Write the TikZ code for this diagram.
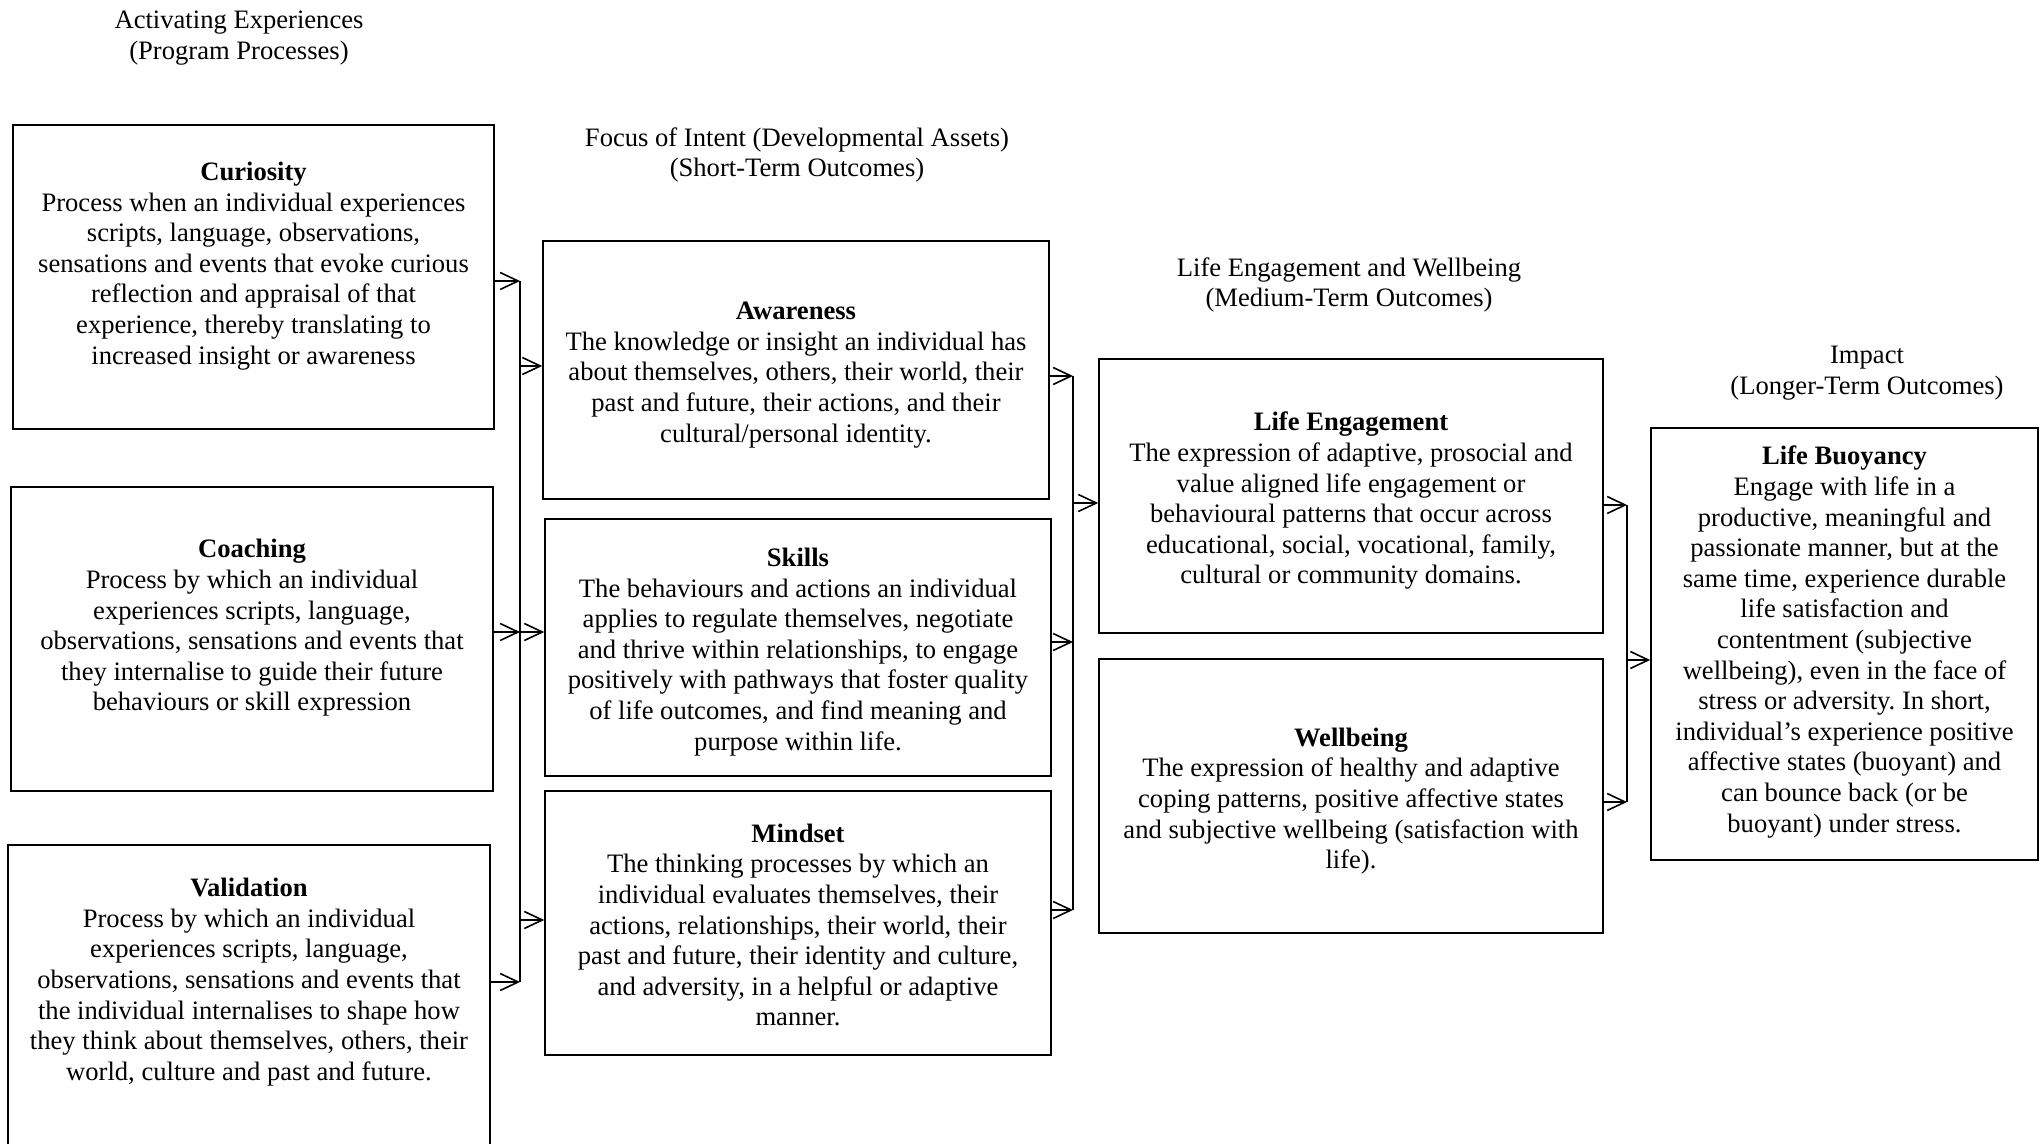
\documentclass[tikz,border=0pt]{standalone}
\usepackage{fontspec}
\setmainfont{Liberation Serif}
\usetikzlibrary{arrows.meta}
\begin{document}
\frenchspacing
\begin{tikzpicture}[x=0.5pt,y=-0.5pt,
  box/.style={draw, line width=0.8pt, inner sep=0pt},
  txt/.style={align=center, inner sep=0pt, font=\fontsize{13.3}{15.3}\selectfont\frenchspacing},
  arr/.style={line width=0.8pt, -{Straight Barb[length=9pt,width=8.5pt,line width=0.8pt]}},
  bus/.style={line width=0.9pt}]
\useasboundingbox (0,0) rectangle (2040,1144);
\clip (0,0) rectangle (2040,1144);

% column headings
\node[txt] (h1) at (239,38) {Activating Experiences\\(Program Processes)};
\node[txt] (h2) at (797,155) {Focus of Intent (Developmental Assets)\\(Short-Term Outcomes)};
\node[txt] (h3) at (1349,285) {Life Engagement and Wellbeing\\(Medium-Term Outcomes)};
\node[txt] (h4) at (1867,373) {Impact\\(Longer-Term Outcomes)};

% boxes
\node[box, minimum width=240.5pt, minimum height=152pt] (cur) at (253.5,277) {};
\node[box, minimum width=241pt, minimum height=152pt] (coa) at (252,639) {};
\node[box, minimum width=241pt, minimum height=157.5pt] (val) at (249,1002.5) {};
\node[box, minimum width=253pt, minimum height=129pt] (awa) at (796,370) {};
\node[box, minimum width=253pt, minimum height=128.5pt] (ski) at (798,647.5) {};
\node[box, minimum width=253pt, minimum height=132pt] (min) at (798,923) {};
\node[box, minimum width=252pt, minimum height=137pt] (eng) at (1351,496) {};
\node[box, minimum width=252pt, minimum height=137pt] (wel) at (1351,796) {};
\node[box, minimum width=193.5pt, minimum height=216pt] (buo) at (1844.5,644) {};

% box texts
\node[txt] (curT) at (253.5,266) {\textbf{Curiosity}\\Process when an individual experiences\\scripts, language, observations,\\sensations and events that evoke curious\\reflection and appraisal of that\\experience, thereby translating to\\increased insight or awareness};
\node[txt] (coaT) at (252,628) {\textbf{Coaching}\\Process by which an individual\\experiences scripts, language,\\observations, sensations and events that\\they internalise to guide their future\\behaviours or skill expression};
\node[txt] (valT) at (249,982) {\textbf{Validation}\\Process by which an individual\\experiences scripts, language,\\observations, sensations and events that\\the individual internalises to shape how\\they think about themselves, others, their\\world, culture and past and future.};
\node[txt] (awaT) at (796,375) {\textbf{Awareness}\\The knowledge or insight an individual has\\about themselves, others, their world, their\\past and future, their actions, and their\\cultural/personal identity.};
\node[txt] (skiT) at (798,652) {\textbf{Skills}\\The behaviours and actions an individual\\applies to regulate themselves, negotiate\\and thrive within relationships, to engage\\positively with pathways that foster quality\\of life outcomes, and find meaning and\\purpose within life.};
\node[txt] (minT) at (798,925) {\textbf{Mindset}\\The thinking processes by which an\\individual evaluates themselves, their\\actions, relationships, their world, their\\past and future, their identity and culture,\\and adversity, in a helpful or adaptive\\manner.};
\node[txt] (engT) at (1351,501) {\textbf{Life Engagement}\\The expression of adaptive, prosocial and\\value aligned life engagement or\\behavioural patterns that occur across\\educational, social, vocational, family,\\cultural or community domains.};
\node[txt] (welT) at (1351,801) {\textbf{Wellbeing}\\The expression of healthy and adaptive\\coping patterns, positive affective states\\and subjective wellbeing (satisfaction with\\life).};
\node[txt] (buoT) at (1844.5,642) {\textbf{Life Buoyancy}\\Engage with life in a\\productive, meaningful and\\passionate manner, but at the\\same time, experience durable\\life satisfaction and\\contentment (subjective\\wellbeing), even in the face of\\stress or adversity. In short,\\individual’s experience positive\\affective states (buoyant) and\\can bounce back (or be\\buoyant) under stress.};

% first junction: processes to assets
\coordinate (j1a) at (520,281);
\coordinate (j1b) at (520,366);
\coordinate (j1c) at (520,632);
\coordinate (j1d) at (520,920);
\coordinate (j1e) at (520,982);
\draw[bus] (j1a) -- (j1e);
\draw[arr] (cur.east |- j1a) -- (j1a);
\draw[arr] (coa.east |- j1c) -- (j1c);
\draw[arr] (val.east |- j1e) -- (j1e);
\draw[arr] (j1b) -- (awa.west |- j1b);
\draw[arr] (j1c) -- (ski.west |- j1c);
\draw[arr] (j1d) -- (min.west |- j1d);

% second junction: assets to engagement and wellbeing
\coordinate (j2a) at (1073,376);
\coordinate (j2b) at (1073,503);
\coordinate (j2c) at (1073,642);
\coordinate (j2d) at (1073,910);
\draw[bus] (j2a) -- (j2d);
\draw[arr] (awa.east |- j2a) -- (j2a);
\draw[arr] (ski.east |- j2c) -- (j2c);
\draw[arr] (min.east |- j2d) -- (j2d);
\draw[arr] (j2b) -- (eng.west |- j2b);

% third junction: medium-term outcomes to impact
\coordinate (j3a) at (1627,505);
\coordinate (j3b) at (1627,660);
\coordinate (j3c) at (1627,802);
\draw[bus] (j3a) -- (j3c);
\draw[arr] (eng.east |- j3a) -- (j3a);
\draw[arr] (wel.east |- j3c) -- (j3c);
\draw[arr] (j3b) -- (buo.west |- j3b);
\end{tikzpicture}
\end{document}
